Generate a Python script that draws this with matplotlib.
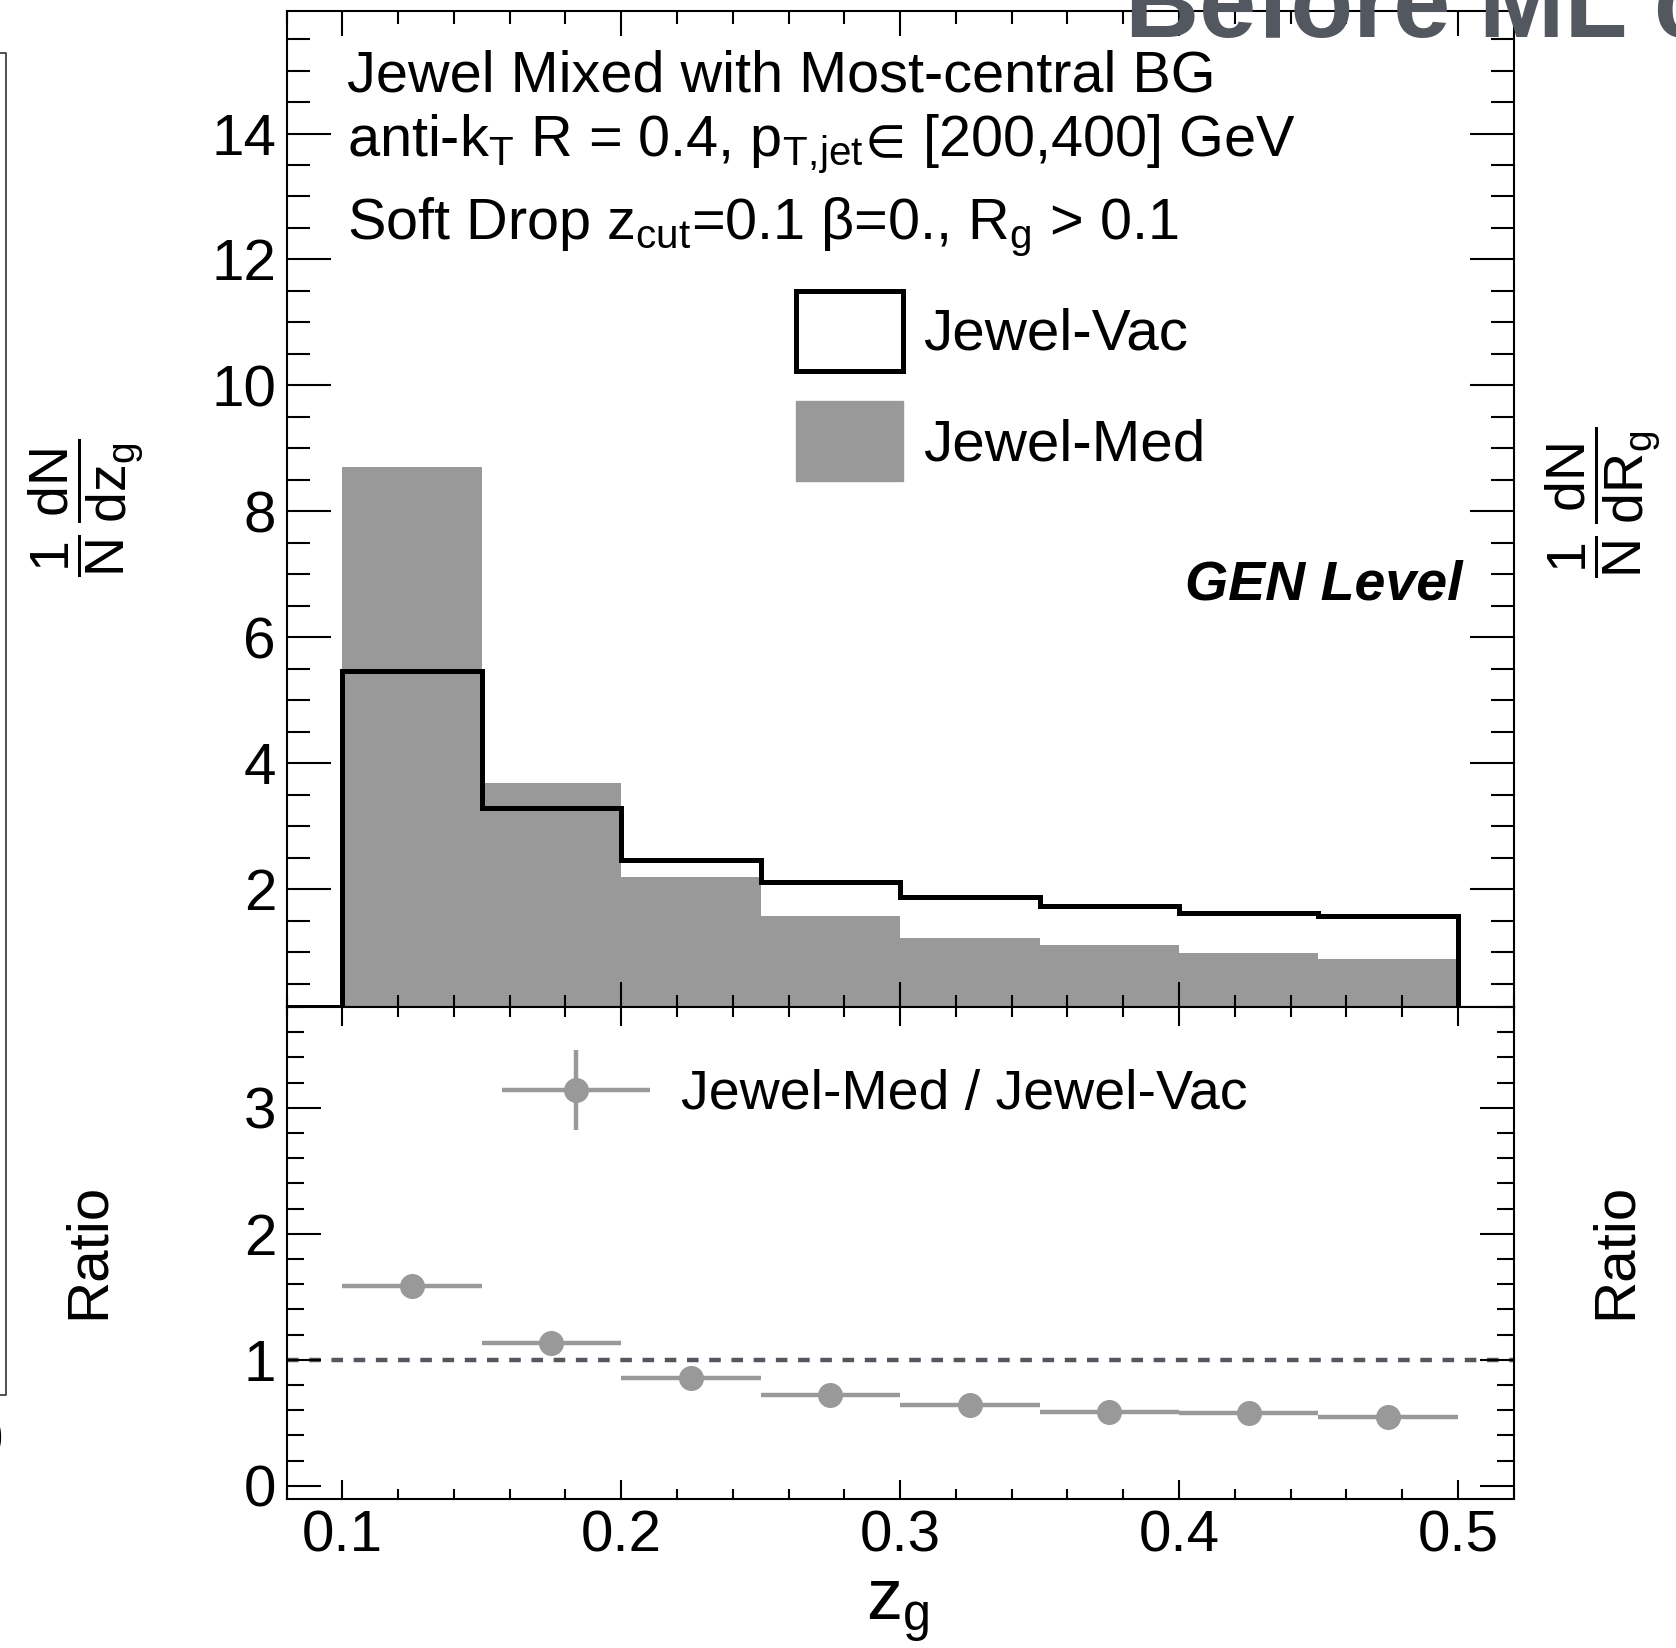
import numpy as np
import matplotlib
matplotlib.use("Agg")
import matplotlib.pyplot as plt
from matplotlib.patches import Patch
from matplotlib.lines import Line2D
from matplotlib.ticker import MultipleLocator
from matplotlib.legend_handler import HandlerErrorbar
from matplotlib.container import ErrorbarContainer

# z_g binning
bin_edges = [0.10, 0.15, 0.20, 0.25, 0.30, 0.35, 0.40, 0.45, 0.50]
# 1/N dN/dz_g
jewel_vac = [5.46, 3.29, 2.47, 2.12, 1.88, 1.73, 1.63, 1.58]
jewel_med = [8.71, 3.68, 2.20, 1.58, 1.22, 1.12, 0.98, 0.90]
# Jewel-Med / Jewel-Vac
ratio_vals = [1.59, 1.13, 0.86, 0.72, 0.64, 0.59, 0.58, 0.55]
ratio_errs = [0.04, 0.03, 0.02, 0.02, 0.02, 0.02, 0.02, 0.02]

header_lines = [
    "Jewel Mixed with Most-central BG",
    r"anti-k$_{T}$ R = 0.4, p$_{T,\!jet}\!\in\!$ [200,400] GeV",
    r"Soft Drop z$_{cut}$=0.1 β=0., R$_{g}$ > 0.1",
]

plt.rcParams['font.family'] = ['Liberation Sans', 'DejaVu Sans']
plt.rcParams['mathtext.fontset'] = 'custom'
plt.rcParams['mathtext.rm'] = 'Liberation Sans'
plt.rcParams['mathtext.it'] = 'Liberation Sans'
plt.rcParams['mathtext.bf'] = 'Liberation Sans:bold'
plt.rcParams['mathtext.default'] = 'rm'
plt.rcParams['mathtext.fallback'] = 'stixsans'
plt.rcParams['axes.linewidth'] = 1.5

W, H = 1676, 1648
def fx(px):
    return px / W
def fy(py):
    return 1 - py / H

fig = plt.figure(figsize=(W / 100, H / 100), dpi=100)

left, right = fx(286.5), fx(1513.7)
top, mid, bot = fy(10.7), fy(1007), fy(1498.5)

ax1 = fig.add_axes([left, mid, right - left, top - mid])
ax2 = fig.add_axes([left, bot, right - left, mid - bot], sharex=ax1)

x_lo, x_hi = 0.08, 0.52
y1_lo, y1_hi = 0.13, 15.95
y2_lo, y2_hi = -0.1, 3.8

grey = '#999999'

# upper pad
ax1.stairs(jewel_med, bin_edges, fill=True, color=grey, baseline=0, lw=0)
ax1.stairs(jewel_vac, bin_edges, baseline=0, color='black', lw=3.6)
ax1.plot([x_lo, bin_edges[0]], [y1_lo, y1_lo], color='black', lw=3.6, solid_capstyle='butt')
ax1.set_xlim(x_lo, x_hi)
ax1.set_ylim(y1_lo, y1_hi)

ax1.xaxis.set_major_locator(MultipleLocator(0.1))
ax1.xaxis.set_minor_locator(MultipleLocator(0.02))
ax1.yaxis.set_major_locator(MultipleLocator(2))
ax1.yaxis.set_minor_locator(MultipleLocator(0.5))
ax1.tick_params(which='both', direction='in', top=True, right=True, width=1.5,
                labelbottom=False, labelsize=42, pad=7.5)
ax1.tick_params(axis='x', which='major', length=18)
ax1.tick_params(axis='x', which='minor', length=9)
ax1.tick_params(axis='y', which='major', length=32)
ax1.tick_params(axis='y', which='minor', length=16.5)

hist_handles = [Patch(facecolor='white', edgecolor='black', lw=3.6, joinstyle='round'),
                Patch(facecolor=grey, edgecolor=grey)]
ax1.legend(hist_handles, ['Jewel-Vac', 'Jewel-Med'], loc='upper left',
           bbox_to_anchor=(fx(796), fy(291)), bbox_transform=fig.transFigure,
           frameon=False, fontsize=42, handlelength=1.84, handleheight=1.73,
           labelspacing=0.52, handletextpad=0.33, borderpad=0, borderaxespad=0)

# ratio pad
edges = np.array(bin_edges)
centers = 0.5 * (edges[:-1] + edges[1:])
half_w = 0.5 * np.diff(edges)
ax2.axhline(1.0, color='#535860', lw=3.2, ls=(0, (2.6, 2.4)), zorder=1)
eb = ax2.errorbar(centers, ratio_vals, xerr=half_w, yerr=ratio_errs, fmt='o',
                  color=grey, ms=17, elinewidth=3.2, capsize=0, zorder=3)
ax2.set_ylim(y2_lo, y2_hi)
ax2.yaxis.set_major_locator(MultipleLocator(1))
ax2.yaxis.set_minor_locator(MultipleLocator(0.2))
ax2.tick_params(which='both', direction='in', top=True, right=True, width=1.5,
                labelsize=42)
ax2.tick_params(axis='y', pad=7.5)
ax2.tick_params(axis='x', pad=8)
ax2.tick_params(axis='x', which='major', length=14)
ax2.tick_params(axis='x', which='minor', length=7.5)
ax2.tick_params(axis='y', which='major', length=24.5)
ax2.tick_params(axis='y', which='minor', length=12)

ax2.legend([eb], ['Jewel-Med / Jewel-Vac'], loc='center left',
           bbox_to_anchor=(fx(502), fy(1095)), bbox_transform=fig.transFigure,
           frameon=False, fontsize=40, handlelength=2.67, handletextpad=0.55,
           borderpad=0, borderaxespad=0,
           handler_map={ErrorbarContainer: HandlerErrorbar(xerr_size=1.33, yerr_size=0.72)})

# texts
for txt, ypx in zip(header_lines, [91, 156, 239]):
    fig.text(fx(347), fy(ypx), txt, fontsize=41.5, ha='left', va='baseline')
fig.text(fx(1462), fy(599), 'GEN Level', fontsize=40, fontweight='bold',
         fontstyle='italic', ha='right', va='baseline')

fig.text(fx(86), fy(508), r'$\dfrac{1}{N}\,\dfrac{dN}{dz_{g}}$', rotation=90,
         ha='center', va='center', fontsize=40)
fig.text(fx(89), fy(1251), 'Ratio', rotation=90, ha='center', va='center', fontsize=42)
fig.text(fx(898), fy(1620), r'z$_{g}$', ha='center', va='baseline', fontsize=52)

# neighbouring panels, cut off by the crop
fig.text(fx(1603), fy(502), r'$\dfrac{1}{N}\,\dfrac{dN}{dR_{g}}$', rotation=90,
         ha='center', va='center', fontsize=40)
fig.text(fx(1616), fy(1251), 'Ratio', rotation=90, ha='center', va='center', fontsize=42)
fig.add_artist(Line2D([fx(0), fx(6), fx(6), fx(0)], [fy(53), fy(53), fy(1395), fy(1395)],
                      color='#333333', lw=1.2))
fig.text(fx(3), fy(1443), '0', ha='right', va='center', fontsize=42)
fig.text(fx(1125), fy(37), 'Before ML c', fontsize=74, fontweight='bold',
         color='#53575f', ha='left', va='baseline', zorder=10)

fig.savefig('out.png', dpi=100)
